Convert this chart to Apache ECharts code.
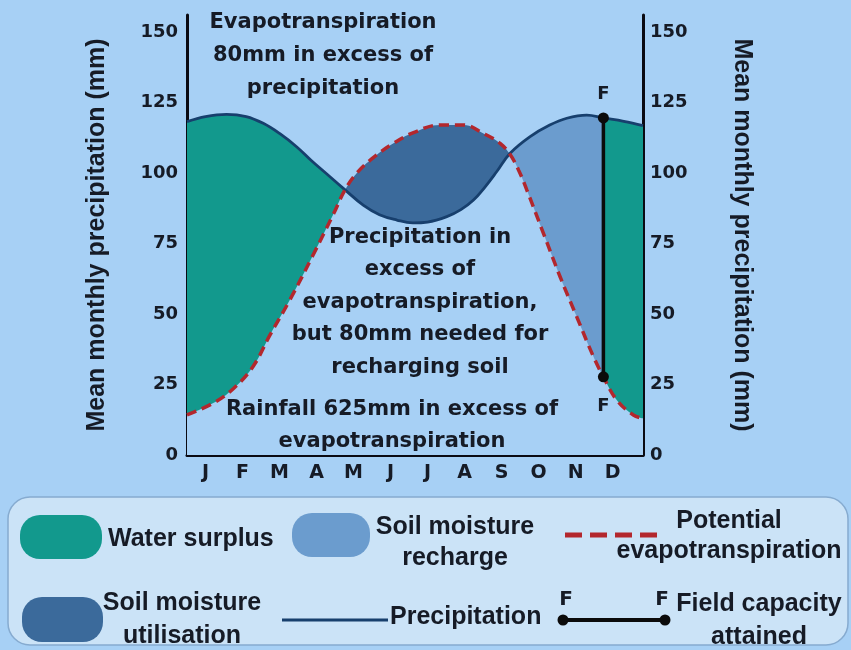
<!DOCTYPE html>
<html>
<head>
<meta charset="utf-8">
<script src="https://cdn.jsdelivr.net/npm/echarts@6/dist/echarts.min.js"></script>
<style>
html,body{margin:0;padding:0;background:#a7d0f5;}
#chart{width:851px;height:650px;}
</style>
</head>
<body>
<div id="chart"></div>
<script>
// ---- data ----
const months = ['J','F','M','A','M','J','J','A','S','O','N','D'];
const yTicks = [0, 25, 50, 75, 100, 125, 150];
// x measured in months from the left edge of the plot (J centred at 0.5)
const precipX = [0, 0.5, 1.07, 1.6, 2.06, 2.5, 2.96, 3.35, 3.7, 4.27, 4.77, 5.2, 5.67, 6.1, 6.5, 7.02, 7.4, 7.74, 8.05, 8.37, 8.73, 9.27, 9.8, 10.26, 10.8, 11.25, 11.8, 12.32];
const precipY = [118.2, 120, 120.8, 120, 117.6, 114, 109.3, 104.5, 100.5, 94, 88.5, 85.2, 83.3, 82.3, 82.6, 84.5, 87, 90.4, 95, 100.5, 107, 112.9, 117, 119.4, 120.5, 119.5, 118.3, 116.8];
const petX = [0, 0.71, 1.25, 1.79, 2.24, 2.78, 3.41, 3.96, 4.27, 4.59, 5.04, 5.58, 6.12, 6.84, 7.47, 8.01, 8.46, 8.73, 8.96, 9.18, 9.63, 10.08, 10.53, 10.98, 11.25, 11.61, 12.06, 12.32];
const petY = [14.2, 18.4, 23.5, 31.5, 42.5, 55, 71, 85.5, 94, 100, 105.5, 110.5, 114.3, 117, 117, 114, 110.5, 106.5, 101, 94, 78.6, 63.2, 49, 34.9, 27.7, 19.5, 14.2, 13];
const crossings = [4.27, 8.73];        // where precipitation and PET cross
const fieldX = [11.25, 11.25];          // field capacity attained
const fieldY = [119.5, 27.7];
const xMax = 12.32;

// ---- style ----
const BG = '#a7d0f5', TEAL = '#12998d', UTIL = '#3b6a9b', RECH = '#6b9cce';
const RED = '#b3272d', NAVY = '#173f6d', INK = '#161b26';
const ANN = 'bold 21px "DejaVu Sans"';
const LEG = 'bold 25px "Liberation Sans"';
const SMOOTH = 0.4;

const precipData = precipX.map((x, i) => [x, precipY[i]]);
const petData = petX.map((x, i) => [x, petY[i]]);
const fieldData = fieldX.map((x, i) => ({
  value: [x, fieldY[i]],
  label: { show: true, formatter: 'F', position: i === 0 ? 'top' : 'bottom', distance: i === 0 ? 9 : 15,
           color: INK, fontFamily: 'DejaVu Sans', fontWeight: 'bold', fontSize: 18 }
}));

const chart = echarts.init(document.getElementById('chart'), null, { renderer: 'canvas' });

const yAxisBase = {
  type: 'value', min: 0, max: 156, interval: 25,
  axisLine: { show: true, lineStyle: { color: '#0a0a12', width: 3 } },
  axisTick: { show: false }, splitLine: { show: false },
  nameLocation: 'middle',
  nameTextStyle: { fontFamily: 'Liberation Sans', fontWeight: 'bold', fontSize: 25, color: INK },
};
const yLabel = (pos) => ({
  margin: pos === 'left' ? 9 : 7, color: INK, fontFamily: 'DejaVu Sans', fontWeight: 'bold', fontSize: 18,
  formatter: v => (yTicks.indexOf(v) >= 0 ? String(v) : '')
});

const areaBase = { type: 'line', smooth: SMOOTH, symbol: 'none', silent: true, lineStyle: { width: 0, opacity: 0 } };

chart.setOption({
  backgroundColor: BG,
  animation: false,
  grid: { left: 187, right: 208, top: 15, bottom: 195 },
  xAxis: {
    type: 'value', min: 0, max: xMax,
    axisLine: { show: true, lineStyle: { color: '#0a0a12', width: 3 } },
    axisTick: { show: false }, splitLine: { show: false },
    axisLabel: {
      customValues: months.map((m, i) => i + 0.5),
      formatter: v => months[Math.floor(v)],
      margin: 9, color: INK, fontFamily: 'DejaVu Sans', fontWeight: 'bold', fontSize: 19
    }
  },
  yAxis: [
    Object.assign({}, yAxisBase, { position: 'left', name: 'Mean monthly precipitation (mm)', nameGap: 77, nameRotate: 90, axisLabel: yLabel('left') }),
    Object.assign({}, yAxisBase, { position: 'right', name: 'Mean monthly precipitation (mm)', nameGap: 86, nameRotate: -90, axisLabel: yLabel('right') })
  ],
  visualMap: [
    { type: 'piecewise', show: false, seriesIndex: 1, dimension: 0,
      pieces: [ { lt: crossings[0], color: TEAL }, { gte: crossings[0], lt: crossings[1], color: BG },
                { gte: crossings[1], lt: fieldX[0], color: RECH }, { gte: fieldX[0], color: TEAL } ] },
    { type: 'piecewise', show: false, seriesIndex: 2, dimension: 0,
      pieces: [ { lt: crossings[0], color: BG }, { gte: crossings[0], lt: crossings[1], color: 'rgba(0,0,0,0)' },
                { gte: crossings[1], color: BG } ] }
  ],
  series: [
    Object.assign({}, areaBase, { name: 'Soil moisture utilisation', data: petData, areaStyle: { color: UTIL, opacity: 1 } }),
    Object.assign({}, areaBase, { name: 'Surplus / recharge', data: precipData, areaStyle: { opacity: 1 } }),
    Object.assign({}, areaBase, { name: 'Below PET', data: petData, areaStyle: { opacity: 1 } }),
    { name: 'Precipitation', type: 'line', data: precipData, smooth: SMOOTH, symbol: 'none', silent: true,
      lineStyle: { color: NAVY, width: 2.8 } },
    { name: 'Potential evapotranspiration', type: 'line', data: petData, smooth: SMOOTH, symbol: 'none', silent: true,
      lineStyle: { color: RED, width: 3.5, type: [10, 6] } },
    { name: 'Field capacity attained', type: 'line', data: fieldData, symbol: 'circle', symbolSize: 11, silent: true,
      itemStyle: { color: '#0b0b0b' }, lineStyle: { color: '#0b0b0b', width: 3.5 } }
  ],
  graphic: [
    // annotations
    { type: 'text', x: 323, y: 6, z: 10, style: { text: 'Evapotranspiration\n80mm in excess of\nprecipitation', align: 'center', verticalAlign: 'top', font: ANN, lineHeight: 33, fill: INK } },
    { type: 'text', x: 420, y: 221, z: 10, style: { text: 'Precipitation in\nexcess of\nevapotranspiration,\nbut 80mm needed for\nrecharging soil', align: 'center', verticalAlign: 'top', font: ANN, lineHeight: 32.5, fill: INK } },
    { type: 'text', x: 392, y: 394, z: 10, style: { text: 'Rainfall 625mm in excess of\nevapotranspiration', align: 'center', verticalAlign: 'top', font: ANN, lineHeight: 32, fill: INK } },
    // legend box
    { type: 'rect', z: 10, shape: { x: 8, y: 497, width: 840, height: 148, r: 22 }, style: { fill: '#cbe3f7', stroke: '#86abd0', lineWidth: 1.5 } },
    { type: 'rect', z: 11, shape: { x: 20, y: 515, width: 82, height: 44, r: 20 }, style: { fill: TEAL } },
    { type: 'text', z: 11, x: 108, y: 539, style: { text: 'Water surplus', align: 'left', verticalAlign: 'middle', font: LEG, fill: INK } },
    { type: 'rect', z: 11, shape: { x: 292, y: 513, width: 78, height: 44, r: 20 }, style: { fill: RECH } },
    { type: 'text', z: 11, x: 455, y: 512, style: { text: 'Soil moisture\nrecharge', align: 'center', verticalAlign: 'top', font: LEG, lineHeight: 31, fill: INK } },
    { type: 'line', z: 11, shape: { x1: 565, y1: 535, x2: 657, y2: 535 }, style: { stroke: RED, lineWidth: 5, lineDash: [17, 8] } },
    { type: 'text', z: 11, x: 729, y: 506, style: { text: 'Potential\nevapotranspiration', align: 'center', verticalAlign: 'top', font: LEG, lineHeight: 30, fill: INK } },
    { type: 'rect', z: 11, shape: { x: 22, y: 597, width: 81, height: 45, r: 20 }, style: { fill: UTIL } },
    { type: 'text', z: 11, x: 182, y: 587, style: { text: 'Soil moisture\nutilisation', align: 'center', verticalAlign: 'top', font: LEG, lineHeight: 33, fill: INK } },
    { type: 'line', z: 11, shape: { x1: 282, y1: 620, x2: 388, y2: 620 }, style: { stroke: NAVY, lineWidth: 3 } },
    { type: 'text', z: 11, x: 390, y: 617, style: { text: 'Precipitation', align: 'left', verticalAlign: 'middle', font: LEG, fill: INK } },
    { type: 'line', z: 11, shape: { x1: 563, y1: 620, x2: 665, y2: 620 }, style: { stroke: '#0b0b0b', lineWidth: 4 } },
    { type: 'circle', z: 12, shape: { cx: 563, cy: 620, r: 5.5 }, style: { fill: '#0b0b0b' } },
    { type: 'circle', z: 12, shape: { cx: 665, cy: 620, r: 5.5 }, style: { fill: '#0b0b0b' } },
    { type: 'text', z: 11, x: 566, y: 600, style: { text: 'F', align: 'center', verticalAlign: 'middle', font: 'bold 20px "DejaVu Sans"', fill: INK } },
    { type: 'text', z: 11, x: 662, y: 600, style: { text: 'F', align: 'center', verticalAlign: 'middle', font: 'bold 20px "DejaVu Sans"', fill: INK } },
    { type: 'text', z: 11, x: 759, y: 588, style: { text: 'Field capacity\nattained', align: 'center', verticalAlign: 'top', font: LEG, lineHeight: 33, fill: INK } }
  ]
});
</script>
</body>
</html>
